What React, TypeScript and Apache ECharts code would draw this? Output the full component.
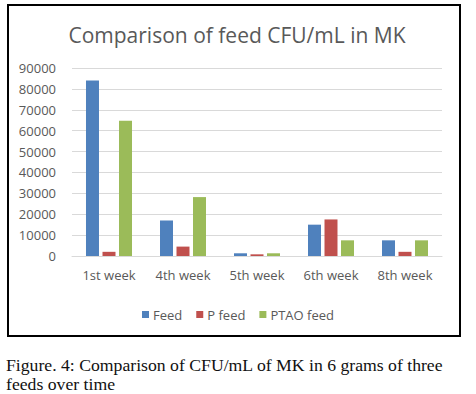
import React, { useEffect, useRef } from "react";
import * as echarts from "echarts";

const categories = ["1st week", "4th week", "5th week", "6th week", "8th week"];
const feed = [84000, 17000, 1300, 15000, 7500];
const pFeed = [2000, 4500, 800, 17500, 2000];
const ptaoFeed = [64800, 28200, 1300, 7500, 7500];
const seriesNames = ["Feed", "P feed", "PTAO feed"];
const colors = ["#4F81BD", "#C0504D", "#9BBB59"];
const titleText = "Comparison of feed CFU/mL in MK";
const captionLines = [
  "Figure. 4: Comparison of CFU/mL of MK in 6 grams of three",
  "feeds over time",
];

const FONT = "'Open Sans', 'Noto Sans', sans-serif";

export default function App() {
  const ref = useRef<HTMLDivElement>(null);
  useEffect(() => {
    if (!ref.current) return;
    const chart = echarts.init(ref.current, undefined, { renderer: "svg" });
    const data = [feed, pFeed, ptaoFeed];
    chart.setOption({
      animation: false,
      backgroundColor: "#ffffff",
      title: {
        text: titleText,
        left: 232,
        textAlign: "center",
        top: 19,
        textStyle: { fontFamily: FONT, fontSize: 21, fontWeight: "normal", color: "#595959" },
      },
      legend: {
        data: seriesNames,
        left: "center",
        top: 303,
        itemWidth: 7,
        itemHeight: 7,
        itemGap: 14,
        icon: "rect",
        textStyle: { fontFamily: FONT, fontSize: 13, color: "#595959", padding: [0, 0, 0, -1] },
      },
      grid: { left: 72, right: 34, top: 68, bottom: 138, containLabel: false },
      xAxis: {
        type: "category",
        data: categories,
        axisLine: { show: true, lineStyle: { color: "#D9D9D9" } },
        axisTick: { show: false },
        axisLabel: { fontFamily: FONT, fontSize: 13, color: "#595959", margin: 12 },
      },
      yAxis: {
        type: "value",
        min: 0,
        max: 90000,
        interval: 10000,
        axisLine: { show: false },
        axisTick: { show: false },
        splitLine: { lineStyle: { color: "#D9D9D9" } },
        axisLabel: {
          fontFamily: FONT,
          fontSize: 13,
          color: "#595959",
          margin: 16,
          formatter: (v: number) => String(v),
        },
      },
      series: seriesNames.map((name, i) => ({
        name,
        type: "bar",
        data: data[i],
        barWidth: 13,
        barGap: "27%",
        itemStyle: { color: colors[i] },
      })),
      graphic: [
        {
          type: "rect",
          shape: { x: 8, y: 5, width: 452, height: 331 },
          style: { fill: "none", stroke: "#000000", lineWidth: 2 },
          silent: true,
        },
        ...captionLines.map((t, i) => ({
          type: "text",
          left: 6,
          top: 356 + i * 19,
          style: { text: t, fontFamily: "'Liberation Serif', 'DejaVu Serif', serif", fontSize: 17.7, fill: "#111111" },
        })),
      ],
    });
    return () => chart.dispose();
  }, []);
  return (
    <div
      ref={ref}
      style={{ position: "fixed", left: 0, top: 0, width: 476, height: 394 }}
    />
  );
}
